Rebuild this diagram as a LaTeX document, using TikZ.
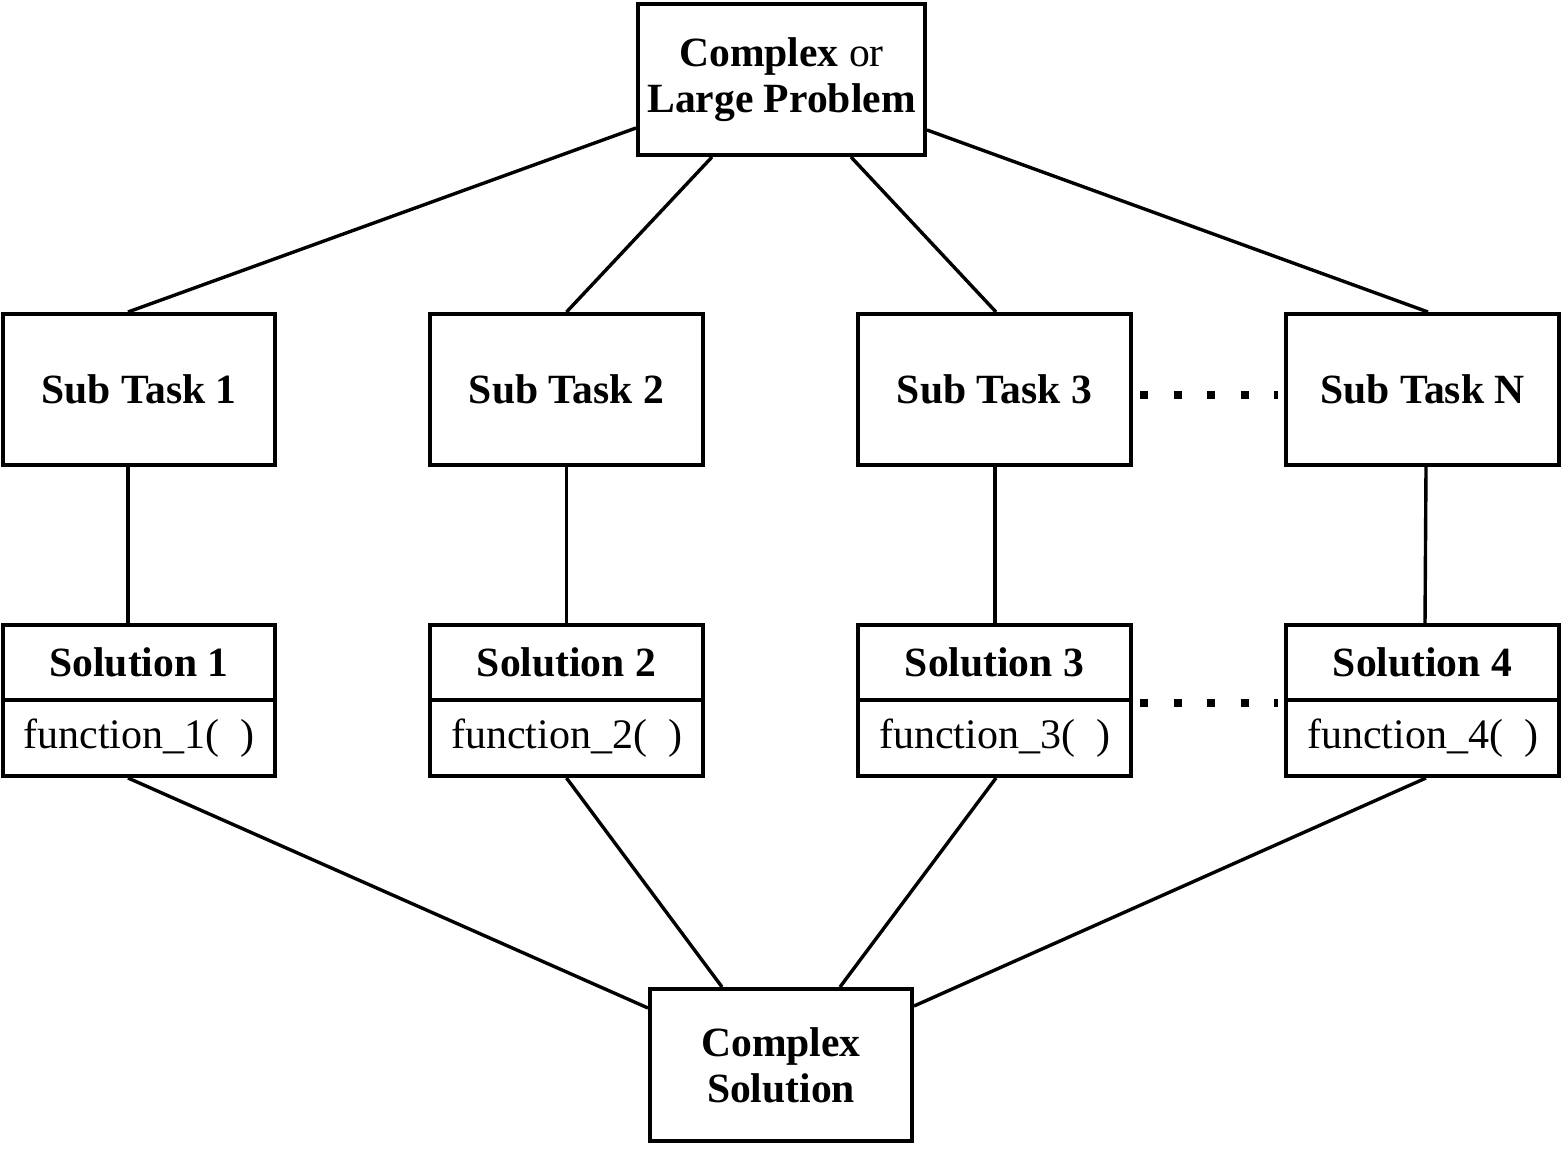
\documentclass[tikz,border=0pt]{standalone}
\usepackage{fontspec}
\setmainfont{Liberation Serif}
\usetikzlibrary{calc}
\begin{document}
\begin{tikzpicture}[x=0.5pt,y=-0.5pt,
  box/.style={draw,line width=2pt,inner sep=0pt,align=center,font=\fontsize{20.8}{23}\selectfont\bfseries},
  fnbox/.style={draw,line width=2pt,inner sep=0pt,align=center,font=\fontsize{21}{24}\selectfont},
  conn/.style={line width=1.7pt},
  dots/.style={line width=4pt,dash pattern=on 4pt off 12.75pt}]
\useasboundingbox (0,0) rectangle (1562,1172);
\node[box,minimum width=143.5pt,minimum height=75.5pt] (top) at (781.5,79.5) {Complex {\mdseries or}\\Large Problem};
\node[box,minimum width=136pt,minimum height=75.5pt] (st1) at (139,389.5) {Sub Task 1};
\node[box,minimum width=136.5pt,minimum height=75.5pt] (st2) at (566.5,389.5) {Sub Task 2};
\node[box,minimum width=136.5pt,minimum height=75.5pt] (st3) at (994.5,389.5) {Sub Task 3};
\node[box,minimum width=136.5pt,minimum height=75.5pt] (stN) at (1422.5,389.5) {Sub Task N};
\node[box,minimum width=136pt,minimum height=37.5pt] (sol1) at (139,662.5) {Solution 1};
\node[box,minimum width=136.5pt,minimum height=37.5pt] (sol2) at (566.5,662.5) {Solution 2};
\node[box,minimum width=136.5pt,minimum height=37.5pt] (sol3) at (994.5,662.5) {Solution 3};
\node[box,minimum width=136.5pt,minimum height=37.5pt] (sol4) at (1422.5,662.5) {Solution 4};
\node[fnbox,minimum width=136pt,minimum height=38pt] (fn1) at (139,738) {function\_1(\ \ )};
\node[fnbox,minimum width=136.5pt,minimum height=38pt] (fn2) at (566.5,738) {function\_2(\ \ )};
\node[fnbox,minimum width=136.5pt,minimum height=38pt] (fn3) at (994.5,738) {function\_3(\ \ )};
\node[fnbox,minimum width=136.5pt,minimum height=38pt] (fn4) at (1422.5,738) {function\_4(\ \ )};
\node[box,minimum width=131pt,minimum height=76pt] (bot) at (781,1065) {Complex\\Solution};
% top to sub tasks
\draw[conn] ($(top.west)+(0,48.5)$) -- ($(st1.north)+(-11,0)$);
\draw[conn] ($(top.south)+(-69.5,0)$) -- (st2.north);
\draw[conn] ($(top.south)+(69.5,0)$) -- ($(st3.north)+(1.5,0)$);
\draw[conn] ($(top.east)+(0,50.5)$) -- ($(stN.north)+(5.5,0)$);
% sub tasks to solutions
\draw[conn] ($(st1.south)+(-11,0)$) -- ($(sol1.north)+(-11,0)$);
\draw[conn] (st2.south) -- (sol2.north);
\draw[conn] ($(st3.south)+(0.5,0)$) -- ($(sol3.north)+(0.5,0)$);
\draw[conn] ($(stN.south)+(3.5,0)$) -- ($(sol4.north)+(2.5,0)$);
% solutions to complex solution
\draw[conn] ($(fn1.south)+(-11,0)$) -- ($(bot.west)+(0,-57)$);
\draw[conn] (fn2.south) -- ($(bot.north)+(-59,0)$);
\draw[conn] ($(fn3.south)+(1.5,0)$) -- ($(bot.north)+(59,0)$);
\draw[conn] ($(fn4.south)+(3.5,0)$) -- ($(bot.east)+(0,-59)$);
% dotted continuations
\draw[dots] ($(st3.east)+(7,5.5)$) -- ($(stN.west)+(-6,5.5)$);
\draw[dots] ($(sol3.south east)+(7,1)$) -- ($(sol4.south west)+(-6,1)$);
\end{tikzpicture}
\end{document}
